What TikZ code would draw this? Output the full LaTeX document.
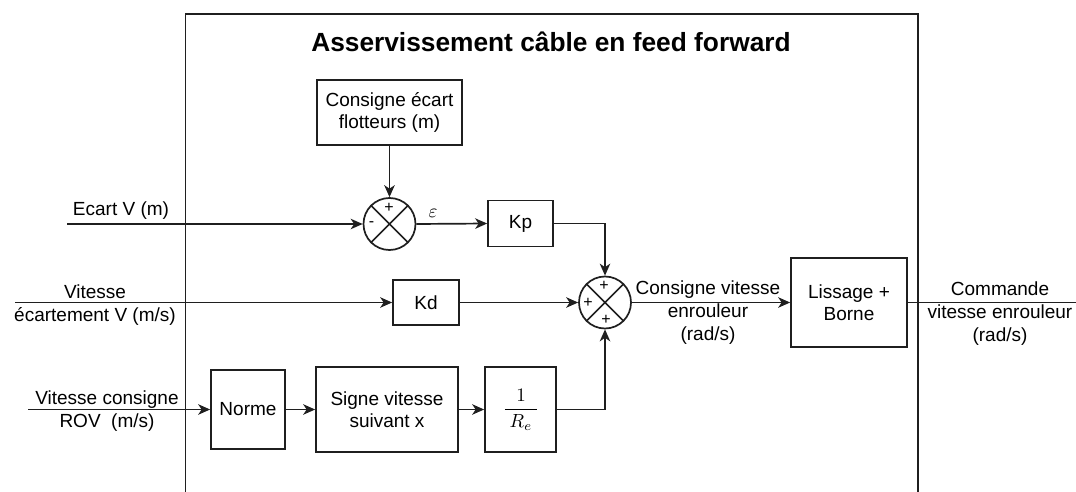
\documentclass[tikz,border=0pt]{standalone}
\usepackage{fontspec}
\setmainfont{Liberation Sans}
\usetikzlibrary{arrows.meta}
\tikzset{
  ln/.style={line width=1.7pt, draw=black!88},
  arr/.style={ln, -{Stealth[length=12pt,width=10.5pt,inset=3.5pt]}},
  blk/.style={draw=black!88, line width=1.7pt, rectangle, inner sep=0pt, align=center, font=\fontsize{19}{22}\selectfont},
  sumc/.style={draw=black!88, line width=1.7pt, circle, minimum size=52pt, inner sep=0pt},
  lbl/.style={align=center, inner sep=0pt, font=\fontsize{19}{23}\selectfont},
  mth/.style={inner sep=0pt, scale=1.9},
  sgn/.style={inner sep=0pt, font=\fontsize{16}{16}\selectfont}
}
\begin{document}
\begin{tikzpicture}[x=1pt,y=-1pt]
\path[use as bounding box] (0,0) rectangle (1076,492);
% outer frame (bottom edge outside the picture)
\coordinate (fbl) at (185.5,492);
\coordinate (ftl) at (185.5,14);
\coordinate (ftr) at (918,14);
\coordinate (fbr) at (918,492);
\draw[ln] (fbl) -- (ftl) -- (ftr) -- (fbr);
\node[inner sep=0pt, font=\fontsize{26.3}{26}\selectfont\bfseries] (title) at (551,42) {Asservissement câble en feed forward};

% blocks
\node[blk, minimum width=145pt, minimum height=65pt] (cons) at (389.5,112.5) {Consigne écart\\flotteurs (m)};
\node[sumc] (s1) at (389.5,224) {};
\node[blk, minimum width=65pt, minimum height=46pt] (kp) at (520.5,223.5) {Kp};
\node[blk, minimum width=66pt, minimum height=45pt] (kd) at (426,302.5) {Kd};
\node[sumc] (s2) at (605,302.5) {};
\node[blk, minimum width=74pt, minimum height=79pt] (norme) at (248,409.5) {Norme};
\node[blk, minimum width=142pt, minimum height=85pt] (signe) at (387,409.5) {Signe vitesse\\suivant x};
\node[blk, minimum width=71pt, minimum height=85pt] (re) at (520.5,409.5) {};
\node[mth] (retxt) at (521,410) {$\displaystyle\frac{1}{\hspace{2.5pt}R_e\hspace{2.5pt}}$};
\node[blk, minimum width=116pt, minimum height=89pt] (liss) at (849,302.5) {Lissage +\\Borne};

% sum crosses
\draw[ln] (s1.north west) -- (s1.south east) (s1.north east) -- (s1.south west);
\draw[ln] (s2.north west) -- (s2.south east) (s2.north east) -- (s2.south west);
\node[sgn] (s1p) at (389,208) {+};
\node[sgn] (s1m) at (371.5,224) {-};
\node[sgn] (s2t) at (604,286) {+};
\node[sgn] (s2l) at (588,303) {+};
\node[sgn] (s2b) at (606,320) {+};

% inputs
\coordinate (inE) at (67,224);
\coordinate (inV) at (15,302.5);
\coordinate (inR) at (28,409.5);
\coordinate (out) at (1076,302.5);
\draw[arr] (inE) -- (s1.west);
\draw[arr] (inV) -- (kd.west);
\draw[arr] (inR) -- (norme.west);
\draw[arr] (cons.south) -- (s1.north);
\draw[arr] (s1.east) -- (kp.west);
\draw[arr] (kp.east) -| (s2.north);
\draw[arr] (kd.east) -- (s2.west);
\draw[arr] (norme.east) -- (signe.west);
\draw[arr] (signe.east) -- (re.west);
\draw[arr] (re.east) -| (s2.south);
\draw[arr] (s2.east) -- (liss.west);
\draw[ln] (liss.east) -- (out);

% labels
\node[mth] (leps) at (433,213.5) {$\varepsilon$};
\node[lbl] (lE) at (121,211) {Ecart V (m)};
\node[lbl] (lV) at (95,305) {Vitesse\\écartement V (m/s)};
\node[lbl] (lR) at (107,411.5) {Vitesse consigne\\ROV\ \ (m/s)};
\node[lbl] (lC) at (708,313) {Consigne vitesse\\enrouleur\\(rad/s)};
\node[lbl] (lO) at (1000,314) {Commande\\vitesse enrouleur\\(rad/s)};
\end{tikzpicture}
\end{document}
